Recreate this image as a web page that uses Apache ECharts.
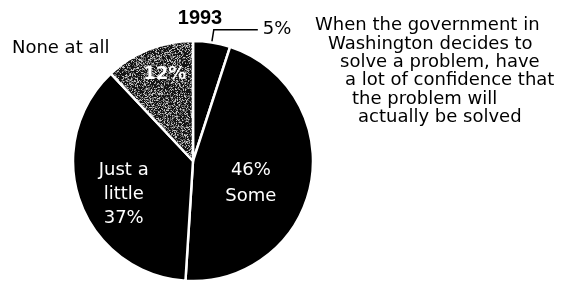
<!DOCTYPE html>
<html><head><meta charset="utf-8">
<script src="https://cdn.jsdelivr.net/npm/echarts@6/dist/echarts.min.js"></script>
<style>html,body{margin:0;padding:0;background:#fff}#c{width:566px;height:281px}</style>
</head><body><div id="c"></div>
<script>
// ---- data ----
const categories = ['A lot', 'Some', 'Just a little', 'None at all'];
const values = [5, 46, 37, 12];
const sliceLabels = ['5%', '46%\nSome', 'Just a\nlittle\n37%', '12%'];
const titleText = '1993';
const noteLines = [
  'When the government in',
  'Washington decides to',
  'solve a problem, have',
  'a lot of confidence that',
  'the problem will',
  'actually be solved'
];

// ---- styles / layout ----
const FONT = '"DejaVu Sans", sans-serif';
const noteX = [315, 328, 340, 345, 352, 358];
const noteTop = 25.5, noteStep = 18.4;
const labelShift = [[0, 0], [-4, 11], [-10, 12], [-5, -28]];
const labelLH = [20, 26, 24, 20];

// speckled gray texture (style only)
function makeTexture() {
  const s = 96, cv = document.createElement('canvas');
  cv.width = s; cv.height = s;
  const ctx = cv.getContext('2d');
  const img = ctx.createImageData(s, s);
  for (let i = 0; i < s * s; i++) {
    let h = Math.sin((i + 1) * 12.9898) * 43758.5453; h = h - Math.floor(h);
    let v = h < 0.5 ? 20 : (h < 0.8 ? 105 : 195);
    img.data[i*4] = v; img.data[i*4+1] = v; img.data[i*4+2] = v; img.data[i*4+3] = 255;
  }
  ctx.putImageData(img, 0, 0);
  return cv;
}
const texture = makeTexture();
const sliceFill = ['#000', '#000', '#000', { image: texture, repeat: 'repeat' }];

const mainData = categories.map((name, i) => {
  const item = {
    name, value: values[i],
    itemStyle: { color: sliceFill[i] },
    label: { formatter: sliceLabels[i], lineHeight: labelLH[i] }
  };
  if (i === 0) {
    item.label.position = 'outside';
    item.label.color = '#000';
    item.labelLine = { show: true, length: 13, length2: 44, lineStyle: { color: '#000', width: 1.5 } };
  }
  if (i === 3) {
    item.label.fontWeight = 'bold';
  }
  return item;
});

const nameData = categories.map((name, i) => ({
  name, value: values[i],
  label: { show: i === 3 }
}));

const chart = echarts.init(document.getElementById('c'));
chart.setOption({
  animation: false,
  backgroundColor: '#fff',
  title: {
    text: titleText, left: 195, top: 3, textAlign: 'center',
    textStyle: { fontFamily: '"Liberation Sans", Arial, sans-serif', fontWeight: 'bold', fontSize: 20, color: '#000' }
  },
  series: [
    {
      type: 'pie', silent: true, center: [193, 161], radius: 120, startAngle: 90,
      avoidLabelOverlap: false,
      itemStyle: { color: 'rgba(0,0,0,0)', borderWidth: 0 },
      label: { position: 'outside', formatter: '{b}', color: '#000', fontFamily: FONT, fontSize: 18, alignTo: 'none' },
      labelLine: { show: false, length: 1, length2: 34 },
      emphasis: { disabled: true },
      data: nameData
    },
    {
      type: 'pie', silent: true, center: [193, 161], radius: 120, startAngle: 90,
      avoidLabelOverlap: false,
      itemStyle: { borderColor: '#fff', borderWidth: 2.5 },
      label: { show: true, position: 'inside', color: '#fff', fontFamily: FONT, fontSize: 18, align: 'center' },
      labelLayout: p => ({ dx: labelShift[p.dataIndex][0], dy: labelShift[p.dataIndex][1] }),
      emphasis: { disabled: true },
      data: mainData
    }
  ],
  graphic: noteLines.map((t, i) => ({
    type: 'text', x: noteX[i], y: noteTop + i * noteStep,
    style: { text: t, fill: '#000', font: '18px ' + FONT, textVerticalAlign: 'middle', textAlign: 'left' }
  }))
});
</script></body></html>
